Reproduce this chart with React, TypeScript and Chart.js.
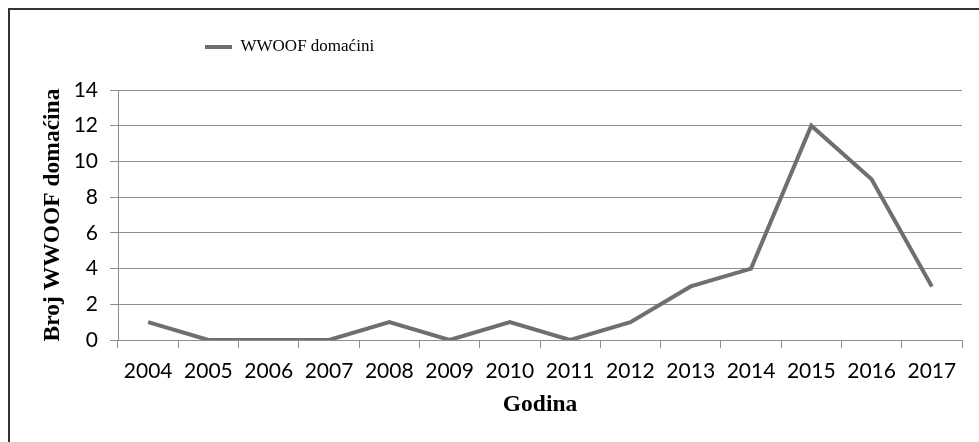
import React, { useEffect, useRef } from "react";
import { Chart, registerables } from "chart.js";

Chart.register(...registerables);

const years = ["2004", "2005", "2006", "2007", "2008", "2009", "2010", "2011", "2012", "2013", "2014", "2015", "2016", "2017"];
const hosts = [1, 0, 0, 0, 1, 0, 1, 0, 1, 3, 4, 12, 9, 3];
const seriesLabel = "WWOOF domaćini";
const yTitle = "Broj WWOOF domaćina";
const xTitle = "Godina";

const LINE = "#6f6f6f";
const GRID = "#8e8e8e";

const frame = {
  id: "frame",
  beforeDraw(chart: any) {
    const ctx = chart.ctx;
    ctx.save();
    ctx.fillStyle = "#ffffff";
    ctx.fillRect(0, 0, chart.width, chart.height);
    ctx.strokeStyle = "#333333";
    ctx.lineWidth = 2;
    ctx.strokeRect(9, 9, chart.width + 20, chart.height + 20);
    ctx.restore();
  },
};

const legendPlace = {
  id: "legendPlace",
  afterLayout(chart: any) {
    const lg = chart.legend;
    if (lg) {
      const w = lg.width;
      const h = lg.height;
      lg.left = 195;
      lg.right = 195 + w;
      lg.top = 28.5;
      lg.bottom = 28.5 + h;
    }
  },
};

export default function App() {
  const ref = useRef<HTMLCanvasElement | null>(null);
  useEffect(() => {
    if (!ref.current) return;
    const chart = new Chart(ref.current, {
      type: "line",
      data: {
        labels: years,
        datasets: [
          {
            label: seriesLabel,
            data: hosts,
            borderColor: LINE,
            backgroundColor: LINE,
            borderWidth: 4,
            pointRadius: 0,
            tension: 0,
          },
        ],
      },
      options: {
        animation: false,
        responsive: false,
        layout: { padding: { left: 10, right: 17, top: 53, bottom: 10 } },
        plugins: {
          tooltip: { enabled: false },
          legend: {
            display: true,
            position: "top",
            align: "start",
            labels: {
              boxWidth: 27,
              boxHeight: 4,
              padding: 10,
              color: "#000",
              font: { family: "Liberation Serif", size: 17 },
              generateLabels: () => [
                {
                  text: seriesLabel,
                  fillStyle: LINE,
                  strokeStyle: LINE,
                  lineWidth: 0,
                  hidden: false,
                  datasetIndex: 0,
                  fontColor: "#000",
                },
              ],
            },
          },
        },
        scales: {
          x: {
            type: "category",
            offset: true,
            grid: {
              offset: true,
              drawOnChartArea: false,
              drawTicks: true,
              tickLength: 8,
              color: GRID,
            },
            border: { display: true, color: GRID, width: 1 },
            ticks: {
              color: "#000",
              padding: 11,
              maxRotation: 0,
              autoSkip: false,
              font: { family: "Lato", size: 21 },
            },
            title: {
              display: true,
              text: xTitle,
              color: "#000",
              font: { family: "Liberation Serif", size: 23.5, weight: "bold" },
              padding: { top: 0, bottom: 12.6 },
            },
            afterFit(scale: any) {
              scale.height = 442 - 340 - 10;
            },
          },
          y: {
            min: 0,
            max: 14,
            ticks: {
              stepSize: 2,
              color: "#000",
              padding: 12,
              font: { family: "Lato", size: 21 },
            },
            grid: { color: GRID, tickLength: 8, lineWidth: 1 },
            border: { display: true, color: GRID, width: 1 },
            title: {
              display: true,
              text: yTitle,
              color: "#000",
              font: { family: "Liberation Serif", size: 23.5, weight: "bold" },
              padding: { top: 29, bottom: 0 },
            },
            afterFit(scale: any) {
              scale.width = 118 - 10;
            },
          },
        },
      },
      plugins: [frame, legendPlace],
    });
    return () => chart.destroy();
  }, []);
  return (
    <div style={{ position: "fixed", left: 0, top: 0, width: 979, height: 442 }}>
      <canvas ref={ref} width={979} height={442} style={{ display: "block" }} />
    </div>
  );
}
